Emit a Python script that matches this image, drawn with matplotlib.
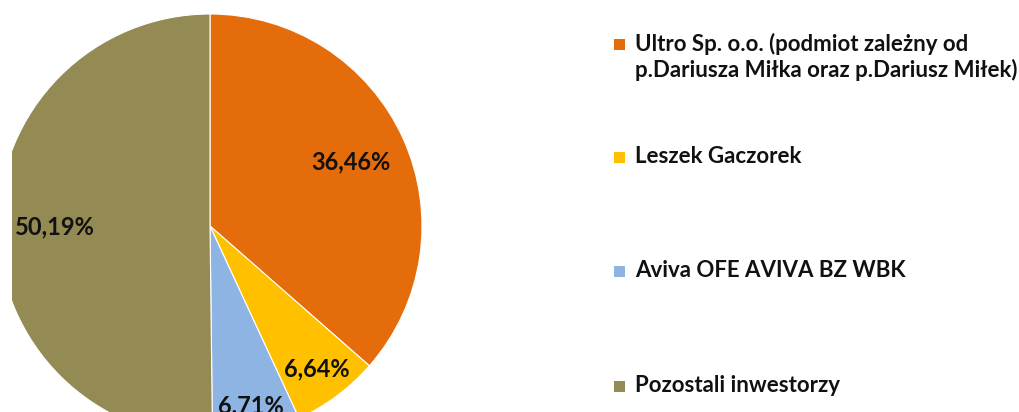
import matplotlib.pyplot as plt
import numpy as np
from matplotlib.patches import Rectangle

labels = ['Ultro Sp. o.o. (podmiot zależny od\np.Dariusza Miłka oraz p.Dariusz Miłek)',
          'Leszek Gaczorek',
          'Aviva OFE AVIVA BZ WBK',
          'Pozostali inwestorzy']
values = [36.46, 6.64, 6.71, 50.19]
colors = ['#E46C0A', '#FFC000', '#8EB4E3', '#948A54']
label_dist = [0.73, 0.84, 0.87, 0.73]
legend_y = [45, 158, 272, 387]

plt.rcParams['font.family'] = ['Lato', 'DejaVu Sans']

fig = plt.figure(figsize=(10.2, 4.12), dpi=100)
ax = fig.add_axes([12 / 1020, 0, 1008 / 1020, 1])

cx, cy, r = 210, 226, 212
# y axis is inverted, so counterclock=True draws clockwise on screen
wedges, _ = ax.pie(values, colors=colors, startangle=-90, counterclock=True,
                   center=(cx, cy), radius=r, frame=True,
                   wedgeprops=dict(edgecolor='white', linewidth=0.8))
for w in wedges:
    w.set_clip_on(True)
ax.set_xlim(12, 1020)
ax.set_ylim(412, 0)
ax.axis('off')

start = -90
for v, d in zip(values, label_dist):
    mid = np.deg2rad(start + v * 3.6 / 2)
    start += v * 3.6
    ax.text(cx + d * r * np.cos(mid), cy + d * r * np.sin(mid),
            f'{v:.2f}%'.replace('.', ','), ha='center', va='center',
            fontsize=17, fontweight='bold', color='#111111')

for lab, col, y in zip(labels, colors, legend_y):
    ax.add_patch(Rectangle((614, y - 6), 11, 11, facecolor=col, edgecolor='none'))
    ax.text(635, y - 12, lab, ha='left', va='top', fontsize=16,
            fontweight='bold', color='#111111', linespacing=1.22)

fig.savefig('out.png', dpi=100)
